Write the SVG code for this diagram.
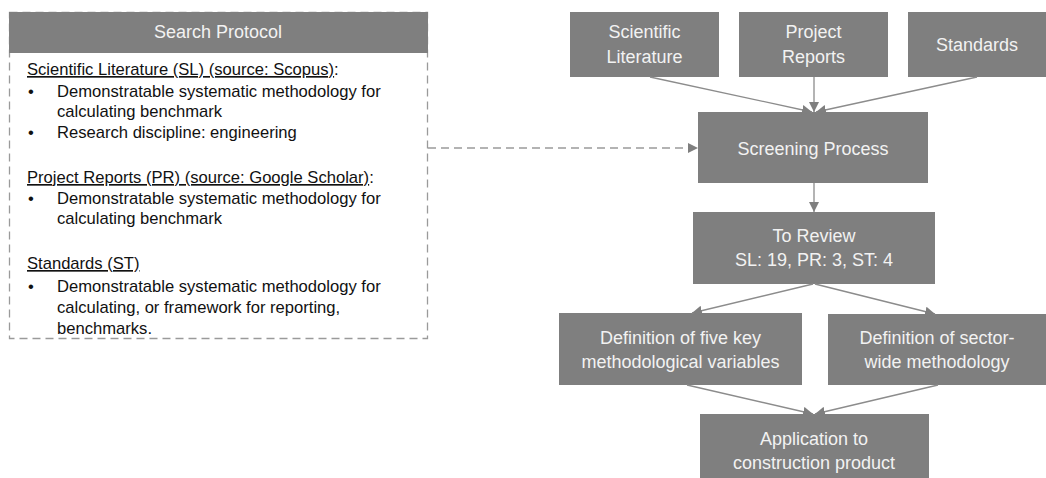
<svg xmlns="http://www.w3.org/2000/svg" width="1046" height="478" viewBox="0 0 1046 478">
<style>
.box{fill:#7f7f7f;}
.bt{font-family:"Liberation Sans",Arial,sans-serif;font-size:18px;fill:#f2f2f2;text-anchor:middle;}
.lt{font-family:"Liberation Sans",Arial,sans-serif;font-size:16.6px;fill:#111;}
.u{text-decoration:underline;}
.conn{stroke:#8c8c8c;stroke-width:1.3;fill:none;}
.dash{stroke:#9a9a9a;stroke-width:1.3;fill:none;stroke-dasharray:8,5;}
</style>
<defs>
<marker id="ah" viewBox="0 0 10 10" refX="10" refY="5" markerWidth="10" markerHeight="10" markerUnits="userSpaceOnUse" orient="auto">
<path d="M0,0 L10,5 L0,10 z" fill="#7f7f7f"/>
</marker>
</defs>
<rect width="1046" height="478" fill="#fff"/>
<g id="search-protocol">
<rect x="9.5" y="12.5" width="418" height="326" fill="none" class="dash"/>
<rect x="9" y="12" width="419" height="41" class="box"/>
<text x="218" y="38" class="bt">Search Protocol</text>
<text class="lt"><tspan x="27" y="75" class="u">Scientific Literature (SL) (source: Scopus)</tspan><tspan>:</tspan></text>
<text x="28" y="97" class="lt">•</text>
<text x="57" y="97" class="lt">Demonstratable systematic methodology for</text>
<text x="57" y="117" class="lt">calculating benchmark</text>
<text x="28" y="138" class="lt">•</text>
<text x="57" y="138" class="lt">Research discipline: engineering</text>
<text class="lt"><tspan x="27" y="183" class="u">Project Reports (PR) (source: Google Scholar)</tspan><tspan>:</tspan></text>
<text x="28" y="204" class="lt">•</text>
<text x="57" y="204" class="lt">Demonstratable systematic methodology for</text>
<text x="57" y="224" class="lt">calculating benchmark</text>
<text x="27" y="269" class="lt u">Standards (ST)</text>
<text x="28" y="292" class="lt">•</text>
<text x="57" y="292" class="lt">Demonstratable systematic methodology for</text>
<text x="57" y="313" class="lt">calculating, or framework for reporting,</text>
<text x="57" y="334" class="lt">benchmarks.</text>
</g>
<g id="sci-lit">
<rect x="570" y="12" width="149" height="65" class="box"/>
<text x="644.5" y="38" class="bt">Scientific</text>
<text x="644.5" y="63" class="bt">Literature</text>
</g>
<g id="proj-rep">
<rect x="739" y="12" width="149" height="65" class="box"/>
<text x="813.5" y="38" class="bt">Project</text>
<text x="813.5" y="63" class="bt">Reports</text>
</g>
<g id="standards">
<rect x="908" y="12" width="138" height="65" class="box"/>
<text x="977" y="51" class="bt">Standards</text>
</g>
<g id="screening">
<rect x="698" y="112" width="230" height="71" class="box"/>
<text x="813" y="155" class="bt">Screening Process</text>
</g>
<g id="to-review">
<rect x="693" y="212" width="242" height="72" class="box"/>
<text x="814" y="242" class="bt">To Review</text>
<text x="814" y="266" class="bt">SL: 19, PR: 3, ST: 4</text>
</g>
<g id="def-five">
<rect x="559" y="313" width="243" height="72" class="box"/>
<text x="680.5" y="344" class="bt">Definition of five key</text>
<text x="680.5" y="368" class="bt">methodological variables</text>
</g>
<g id="def-sector">
<rect x="828" y="314" width="218" height="71" class="box"/>
<text x="937" y="344" class="bt">Definition of sector-</text>
<text x="937" y="368" class="bt">wide methodology</text>
</g>
<g id="application">
<rect x="700" y="414" width="229" height="64" class="box"/>
<text x="814" y="445" class="bt">Application to</text>
<text x="814" y="469" class="bt">construction product</text>
</g>
<g id="connectors">
<path d="M650,77 L812,112" class="conn" marker-end="url(#ah)"/>
<path d="M814,77 L814,112" class="conn" marker-end="url(#ah)"/>
<path d="M977,77 L816,112" class="conn" marker-end="url(#ah)"/>
<path d="M814,183 L814,212" class="conn" marker-end="url(#ah)"/>
<path d="M813,284 L692,313" class="conn" marker-end="url(#ah)"/>
<path d="M815,284 L935,314" class="conn" marker-end="url(#ah)"/>
<path d="M687,385 L813,414" class="conn" marker-end="url(#ah)"/>
<path d="M938,385 L815,414" class="conn" marker-end="url(#ah)"/>
<path d="M428,148 L698,148" class="dash" marker-end="url(#ah)"/>
</g>
</svg>
